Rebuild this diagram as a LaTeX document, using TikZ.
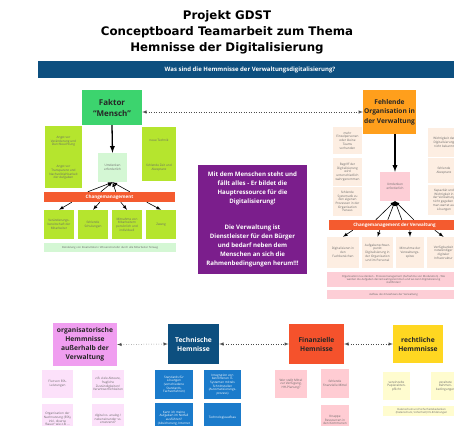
\documentclass[tikz,border=0pt]{standalone}
\usepackage{fontspec}
\setmainfont{Open Sans}
\newfontfamily\titlefont{DejaVu Sans}
\usetikzlibrary{arrows}
\usetikzlibrary{shapes}

\definecolor{banner}{HTML}{0D4F7F}
\definecolor{mensch}{HTML}{3CD46E}
\definecolor{lime}{HTML}{B5E52E}
\definecolor{mint}{HTML}{D4F7D4}
\definecolor{change}{HTML}{F45B2F}
\definecolor{lila}{HTML}{7B1E8C}
\definecolor{orga}{HTML}{FF9F1C}
\definecolor{peach}{HTML}{FDEEE2}
\definecolor{rosa}{HTML}{FDCED6}
\definecolor{violet}{HTML}{F09EF0}
\definecolor{violetlight}{HTML}{FCE1FA}
\definecolor{techblue}{HTML}{1B7BCB}
\definecolor{finanz}{HTML}{F5522C}
\definecolor{finanzlight}{HTML}{FFCCD3}
\definecolor{gelb}{HTML}{FFD721}
\definecolor{gelblight}{HTML}{FFFCCF}

\tikzset{
  headbox/.style={rectangle, inner sep=1pt, align=center, text=black!85,
    font=\bfseries\fontsize{6.7}{9}\selectfont},
  notebox/.style={rectangle, inner sep=0.5pt, align=center, text=black!60,
    font=\fontsize{3.1}{3.7}\selectfont},
  barbox/.style={rectangle, inner sep=0pt, text=white,
    font=\bfseries\fontsize{4.6}{5}\selectfont},
  wh/.style 2 args={minimum width=#1, minimum height=#2},
  linkarrow/.style={<->, dotted, black!70, line width=0.5pt},
  mainarrow/.style={->, line width=1.3pt},
  fanarrow/.style={->, line width=0.6pt}
}

\begin{document}
\begin{tikzpicture}[x=1pt, y=-1pt, >=latex]
        \useasboundingbox (0,0) rectangle (454,425);
        \fill[white] (0,0) rectangle (454,425);
        \clip (0,0) rectangle (454,425);

        % title and question
        \node[align=center, font=\titlefont\bfseries\fontsize{11.8}{16}\selectfont] at (227,32) (titel)
            {Projekt GDST\\Conceptboard Teamarbeit zum Thema\\Hemnisse der Digitalisierung};
        \node[fill=banner, wh={424}{17}, text=white, font=\bfseries\fontsize{6}{7}\selectfont] at (250,69.5) (frage)
            {Was sind die Hemmnisse der Verwaltungsdigitalisierung?};

        % Faktor Mensch
        \node[headbox, fill=mensch, wh={60}{35}, font=\bfseries\fontsize{8}{11}\selectfont] at (112,107.5) (mensch) {Faktor\\``Mensch''};
        \node[notebox, fill=lime, wh={37}{31}] at (63.5,141.5) (angst1) {Angst vor\\Veränderung und\\Durchleuchtung};
        \node[notebox, fill=lime, wh={37}{31}] at (63.5,172.5) (angst2) {Angst vor\\Transparenz und\\Nachvollziehbarkeit\\der Aufgaben};
        \node[notebox, fill=lime, wh={34}{27}] at (159,140.5) (technik) {neue Technik};
        \node[notebox, fill=lime, wh={34}{27}] at (159,167.5) (zeit) {fehlende Zeit und\\Akzeptanz};
        \node[notebox, fill=mint, wh={29}{29}] at (112.5,167.5) (umd1) {Umdenken\\erforderlich};
        \node[barbox, fill=change, wh={131}{10}] at (109.5,197) (cm1) {Changemanagement};
        \node[notebox, fill=lime, wh={30}{29}] at (59,224.5) (v1) {Veränderungs-\\bereitschaft der\\Mitarbeiter};
        \node[notebox, fill=lime, wh={30}{29}] at (93,224.5) (v2) {fehlende\\Schulungen};
        \node[notebox, fill=lime, wh={30}{29}] at (127,224.5) (v3) {Mitnahme von\\Mitarbeitern\\persönlich und\\individuell};
        \node[notebox, fill=lime, wh={30}{29}] at (161,224.5) (v4) {Zwang};
        \node[notebox, fill=mint, wh={132}{9}, font=\fontsize{2.7}{3.2}\selectfont] at (110,247.5) (buendel)
            {Bündelung von Kreativitäten / Wissenstransfer durch alle Mitarbeiter hinweg};
        \draw[mainarrow] (mensch.south) -- (umd1.north);
        \draw[fanarrow] ([xshift=44]cm1.north west) -- (umd1.south);
        \draw[fanarrow] ([xshift=57]cm1.north west) -- (umd1.south);
        \draw[fanarrow] ([xshift=72]cm1.north west) -- (umd1.south);
        \draw[fanarrow] ([xshift=86]cm1.north west) -- (umd1.south);
        \draw[fanarrow] ([xshift=28]cm1.south west) -- (v1.north);
        \draw[fanarrow] ([xshift=56]cm1.south west) -- (v2.north);
        \draw[fanarrow] ([xshift=77]cm1.south west) -- (v3.north);
        \draw[fanarrow] ([xshift=103]cm1.south west) -- (v4.north);

        % message in the middle
        \node[fill=lila, wh={109}{109}, align=center, text=white, font=\bfseries\fontsize{6.1}{8.9}\selectfont] at (252.5,219.5) (kern)
            {Mit dem Menschen steht und\\fällt alles - Er bildet die\\Hauptressource für die\\Digitalisierung!\\[17.8pt]
             Die Verwaltung ist\\Dienstleister für den Bürger\\und bedarf neben dem\\Menschen an sich die\\Rahmenbedingungen herum!!!};

        % Fehlende Organisation
        \node[headbox, fill=orga, wh={53}{44}, font=\bfseries\fontsize{6.6}{9.3}\selectfont] at (389.5,112) (orga) {Fehlende\\Organisation in\\der Verwaltung};
        \node[notebox, fill=peach, wh={29}{27}] at (347.5,140.5) (p1) {mehr\\Einzelpersonen\\oder kleine\\Teams\\vorhanden};
        \node[notebox, fill=peach, wh={29}{28}] at (347.5,172) (p2) {Begriff der\\Digitalisierung\\wird\\unterschiedlich\\wahrgenommen};
        \node[notebox, fill=peach, wh={29}{29}] at (347.5,201.5) (p3) {fehlende\\Systematik zu\\den eigenen\\Prozessen in der\\Organisation\\heraus};
        \node[notebox, fill=peach, wh={32}{29}] at (444,142.5) (q1) {Wichtigkeit der\\Digitalisierung\\nicht bekannt};
        \node[notebox, fill=peach, wh={32}{25}] at (444,170.5) (q2) {fehlende\\Akzeptanz};
        \node[notebox, fill=peach, wh={32}{30}] at (444,200) (q3) {Kapazität und\\Wichtigkeit in\\der Verwaltung\\nicht gegeben -\\man wartet auf\\Lösungen};
        \node[notebox, fill=rosa, wh={30}{29}] at (395,186.5) (umd2) {Umdenken\\erforderlich};
        \node[barbox, fill=change, wh={131}{10}, font=\bfseries\fontsize{4.5}{5}\selectfont] at (394.5,225) (cm2) {Changemanagement der Verwaltung};
        \node[notebox, fill=peach, wh={32}{31}] at (343,252.5) (w1) {Digitalisieren in\\den\\Fachbereichen};
        \node[notebox, fill=peach, wh={31}{31}] at (377.5,252.5) (w2) {Aufgabenschwer-\\punkt\\Digitalisierung in\\der Organisation\\und im Personal};
        \node[notebox, fill=peach, wh={28}{31}] at (410,252.5) (w3) {Mitnahme der\\Verwaltungs-\\spitze};
        \node[notebox, fill=peach, wh={33}{31}] at (443.5,252.5) (w4) {Verfügbarkeit\\notwendiger\\digitaler\\Infrastruktur};
        \node[notebox, fill=rosa, wh={133}{15}, font=\fontsize{2.7}{3.3}\selectfont] at (393.5,279.5) (neudenken)
            {Organisation neu denken - Prozessmanagement (Aufnahme von Modulation) - Wie\\werden die Aufgaben derzeit wahrgenommen und wo kann Digitalisierung\\stattfinden!};
        \node[notebox, fill=rosa, wh={133}{9}, font=\fontsize{2.7}{3.3}\selectfont] at (393.5,294.5) (knowhow) {Aufbau des Knowhows der Verwaltung};
        \draw[mainarrow] (orga.south -| umd2.north) -- (umd2.north);
        \draw[fanarrow] ([xshift=47]cm2.north west) -- (umd2.south);
        \draw[fanarrow] ([xshift=59]cm2.north west) -- (umd2.south);
        \draw[fanarrow] ([xshift=73]cm2.north west) -- (umd2.south);
        \draw[fanarrow] ([xshift=85]cm2.north west) -- (umd2.south);
        \draw[fanarrow] ([xshift=24]cm2.south west) -- (w1.north);
        \draw[fanarrow] ([xshift=51]cm2.south west) -- (w2.north);
        \draw[fanarrow] ([xshift=81]cm2.south west) -- (w3.north);
        \draw[fanarrow] ([xshift=106]cm2.south west) -- (w4.north);

        \draw[linkarrow] (mensch.east |- orga.west) -- (orga.west);

        % bottom row
        \node[headbox, fill=violet, wh={64}{43}] at (85,344.5) (aussen) {organisatorische\\Hemmnisse\\außerhalb der\\Verwaltung};
        \node[headbox, fill=banner, wh={51}{40}, text=white] at (193.5,344) (technik2) {Technische\\Hemnisse};
        \node[headbox, fill=finanz, wh={55}{40}] at (316.5,344) (finanz) {Finanzielle\\Hemnisse};
        \node[headbox, fill=gelb, wh={50}{38}] at (418,344) (recht) {rechtliche\\Hemmnisse};
        \draw[linkarrow] (aussen.east) -- (technik2.west);
        \draw[linkarrow] (technik2.east) -- (finanz.west);
        \draw[linkarrow] (finanz.east) -- (recht.west);

        \node[notebox, fill=violetlight, wh={31}{28}] at (57.5,384) (o1) {Flut von EfA-\\Leistungen};
        \node[notebox, fill=violetlight, wh={32}{28}] at (108,384) (o2) {z.B. viele Akteure,\\fragliche\\Zuständigkeiten/\\Verantwortlichkeiten};
        \node[notebox, fill=violetlight, wh={31}{30}] at (57.5,419) (o3) {Organisation der\\Nachnutzung (EfA),\\inkl. diverse\\`Bauer' wie z.B. ...};
        \node[notebox, fill=violetlight, wh={32}{30}] at (108,419) (o4) {digital vs. analog /\\nebeneinander vs.\\ersetzend?};

        \node[notebox, fill=techblue, text=white, wh={38}{29}] at (174,384.5) (t1) {Standards für\\Lösungen\\(verschiedene\\Standards,\\Fachverfahren)};
        \node[notebox, fill=techblue, text=white, wh={37}{29}] at (222.5,384.5) (t2) {Integration von\\betroffenen IT-\\Systemen mittels\\Schnittstellen\\(Automatisierungs-\\prozess)};
        \node[notebox, fill=techblue, text=white, wh={38}{30}] at (174,418) (t3) {Kann ich meine\\Aufgaben im Notfall\\ausführen?\\(Absicherung, Internet};
        \node[notebox, fill=techblue, text=white, wh={37}{30}] at (222.5,418) (t4) {Technologieaufbau};

        \node[notebox, fill=finanzlight, wh={32}{28}] at (291,384) (f1) {Wer stellt Mittel\\zur Verfügung,\\HH-Planung?};
        \node[notebox, fill=finanzlight, wh={28}{29}] at (335,383.5) (f2) {fehlende\\finanzielle Mittel};
        \node[notebox, fill=finanzlight, wh={28}{30}] at (335,420) (f3) {Knappe\\Ressourcen in\\den Kommunen};

        \node[notebox, fill=gelblight, wh={27}{28}] at (396.5,386) (r1) {vereinzelte\\Papierakten-\\pflicht};
        \node[notebox, fill=gelblight, wh={29}{28}] at (445.5,386) (r2) {veraltete\\Rahmen-\\bedingungen};
        \node[notebox, fill=gelblight, wh={77}{10}, font=\fontsize{2.7}{3.3}\selectfont] at (421.5,411) (r3)
            {Datenschutz und Sicherheitsbedenken\\(Datenschutz, Sicherheit) DS-Erklärungen};
    \end{tikzpicture}
\end{document}
